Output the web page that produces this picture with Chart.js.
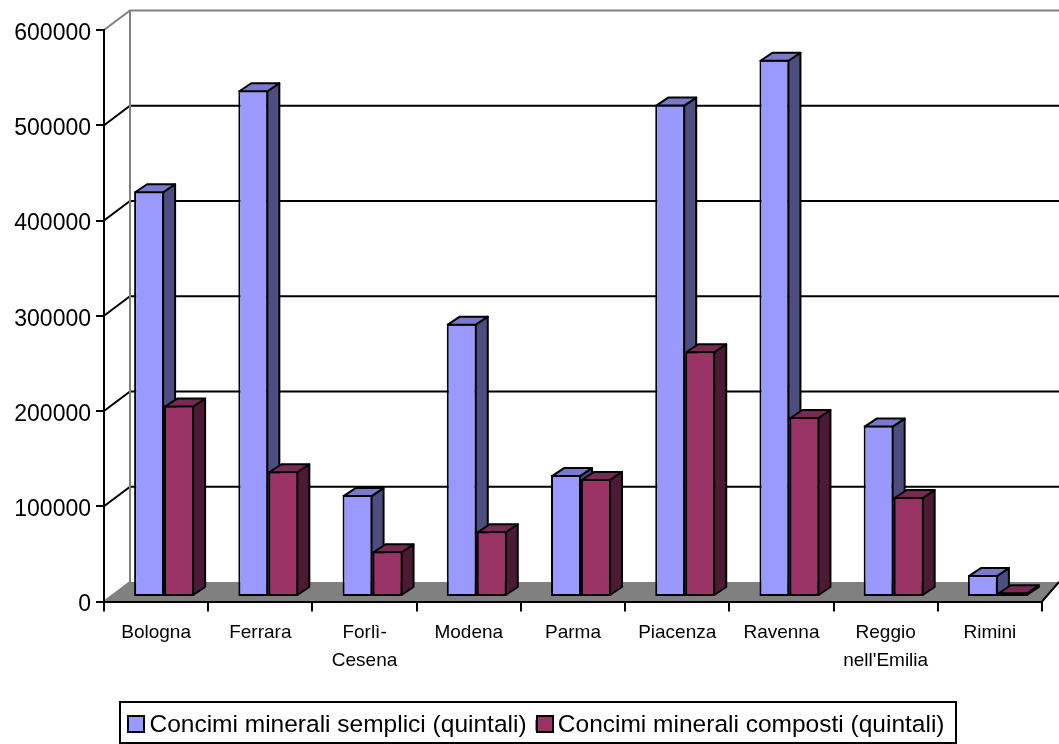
<!DOCTYPE html>
<html>
<head>
<meta charset="utf-8">
<title>Concimi minerali</title>
<script src="https://cdn.jsdelivr.net/npm/chart.js@4/dist/chart.umd.min.js"></script>
<style>
    body { margin: 0; background: #fff; }
    canvas { display: block; }
</style>
</head>
<body>
<canvas id="chart" width="1059" height="744"></canvas>
<script>
const categories = ['Bologna', 'Ferrara', ['Forlì-', 'Cesena'], 'Modena', 'Parma', 'Piacenza', 'Ravenna', ['Reggio', "nell'Emilia"], 'Rimini'];
const semplici = [426000, 532000, 107000, 287000, 128000, 517000, 564000, 180000, 23000];
const composti = [201000, 132000, 48000, 69000, 124000, 258000, 189000, 105000, 5000];
const seriesNames = ['Concimi minerali semplici (quintali)', 'Concimi minerali composti (quintali)'];

const fontName = '"Liberation Sans", Arial, sans-serif';
const PLOT_BOTTOM = 601.5;
const LEGEND_SHIFT = 15.35;

// side and top colours of the fake 3D bars, by dataset
const faces = [
    { side: '#4d4d80', top: '#7a7acc' },
    { side: '#4d1a33', top: '#7a2952' }
];

function drawBarFaces(ctx, meta, colors) {
    const dx = 12, dy = 8;
    ctx.save();
    ctx.lineWidth = 2;
    ctx.lineJoin = 'round';
    ctx.strokeStyle = '#000';
    meta.data.forEach(bar => {
        const l = bar.x - bar.width / 2 + 1;
        const r = bar.x + bar.width / 2 - 1;
        const t = bar.y + 1;
        const b = bar.base - 1;

        ctx.fillStyle = colors.side;
        ctx.beginPath();
        ctx.moveTo(r, t);
        ctx.lineTo(r + dx, t - dy);
        ctx.lineTo(r + dx, b - dy);
        ctx.lineTo(r, b);
        ctx.closePath();
        ctx.fill();
        ctx.stroke();

        ctx.fillStyle = colors.top;
        ctx.beginPath();
        ctx.moveTo(l, t);
        ctx.lineTo(l + dx, t - dy);
        ctx.lineTo(r + dx, t - dy);
        ctx.lineTo(r, t);
        ctx.closePath();
        ctx.fill();
        ctx.stroke();
    });
    ctx.restore();
}

// walls, floor, back gridlines and the 3D look of the bars
const wallPlugin = {
    id: 'wall',
    beforeDraw(chart) {
        const ctx = chart.ctx;
        const { left, right, top, bottom } = chart.chartArea;
        const y = chart.scales.y;
        const dx = 26, dy = 19.5;
        ctx.save();

        ctx.fillStyle = '#808080';
        ctx.beginPath();
        ctx.moveTo(left, bottom);
        ctx.lineTo(left + dx, bottom - dy);
        ctx.lineTo(right + 17, bottom - dy);
        ctx.lineTo(right, bottom);
        ctx.closePath();
        ctx.fill();

        ctx.lineWidth = 2;
        y.ticks.forEach(tick => {
            const py = y.getPixelForValue(tick.value);
            const edge = tick.value === 0 || tick.value === y.max;
            ctx.strokeStyle = edge ? '#808080' : '#000';
            ctx.beginPath();
            ctx.moveTo(left, py);
            ctx.lineTo(left + dx, py - dy);
            if (tick.value !== 0) ctx.lineTo(chart.width, py - dy);
            ctx.stroke();
        });

        ctx.strokeStyle = '#808080';
        ctx.beginPath();
        ctx.moveTo(left + dx, top - dy);
        ctx.lineTo(left + dx, bottom - dy);
        ctx.stroke();

        ctx.strokeStyle = '#000';
        ctx.beginPath();
        ctx.moveTo(right, bottom);
        ctx.lineTo(right + 17, bottom - dy);
        ctx.stroke();
        ctx.restore();
    },
    // draw the series in our own order so the second hides the side of the first,
    // bars stand a bit behind the axis plane
    beforeDatasetsDraw(chart) {
        const ctx = chart.ctx;
        ctx.save();
        ctx.translate(8, -4.5);
        [0, 1].forEach(i => {
            const meta = chart.getDatasetMeta(i);
            meta.controller.draw();
            drawBarFaces(ctx, meta, faces[i]);
        });
        ctx.restore();
        return false;
    },
    afterLayout(chart) {
        const legend = chart.legend;
        legend.left += LEGEND_SHIFT;
        legend.right += LEGEND_SHIFT;
        legend.top = 703;
        legend.bottom = legend.top + legend.height;
    },
    afterDraw(chart) {
        const ctx = chart.ctx;
        const legend = chart.legend;
        ctx.save();
        ctx.strokeStyle = '#000';
        ctx.lineWidth = 2;
        ctx.strokeRect(120, 702, 836, 41);
        // swatches are larger than the gap the library leaves before the text
        legend.legendHitBoxes.forEach((box, i) => {
            const x = Math.round(box.left);
            ctx.fillStyle = legend.legendItems[i].fillStyle;
            ctx.fillRect(x, 716, 16, 16);
            ctx.strokeRect(x, 716, 16, 16);
        });
        ctx.restore();
    }
};

new Chart(document.getElementById('chart'), {
    type: 'bar',
    data: {
        labels: categories,
        datasets: [
            { label: seriesNames[0], data: semplici, backgroundColor: '#9999ff' },
            { label: seriesNames[1], data: composti, backgroundColor: '#993366' }
        ]
    },
    options: {
        responsive: false,
        animation: false,
        devicePixelRatio: 1,
        categoryPercentage: 60 / 104.2,
        barPercentage: 1,
        datasets: { bar: { borderColor: '#000', borderWidth: 2, borderSkipped: false, clip: false } },
        layout: { padding: { top: 30, right: 17, left: 0, bottom: 0 } },
        plugins: {
            tooltip: { enabled: false },
            legend: {
                position: 'bottom',
                labels: {
                    font: { family: fontName, size: 24.5 },
                    color: '#000',
                    boxWidth: 9,
                    boxHeight: 9,
                    padding: 10
                }
            }
        },
        scales: {
            x: {
                grid: { drawOnChartArea: false, color: '#000', lineWidth: 2, tickLength: 10, tickColor: '#000' },
                border: { color: '#000', width: 2 },
                ticks: {
                    font: { family: fontName, size: 19, lineHeight: 1.44 },
                    color: '#000',
                    padding: 8,
                    maxRotation: 0,
                    autoSkip: false
                },
                afterFit(scale) {
                    scale.height = scale.chart.height - PLOT_BOTTOM - scale.chart.legend.height;
                }
            },
            y: {
                min: 0,
                max: 600000,
                grid: { drawOnChartArea: false, color: '#000', lineWidth: 2, tickLength: 8, tickColor: '#000' },
                border: { color: '#000', width: 2 },
                ticks: {
                    stepSize: 100000,
                    font: { family: fontName, size: 23, lineHeight: 0.3 },
                    color: '#000',
                    padding: 5,
                    // empty first line pushes the number a few pixels below the tick
                    callback: value => ['', String(value)]
                },
                afterFit(scale) {
                    scale.width = 104;
                }
            }
        }
    },
    plugins: [wallPlugin]
});
</script>
</body>
</html>
